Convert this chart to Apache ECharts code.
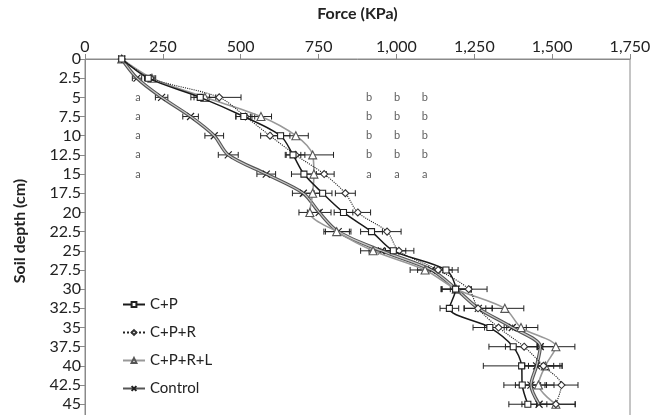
<!DOCTYPE html>
<html>
<head>
<meta charset="utf-8">
<script src="https://cdn.jsdelivr.net/npm/echarts@6/dist/echarts.min.js"></script>
<style>html,body{margin:0;padding:0;background:#fff}#c{width:654px;height:415px}</style>
</head>
<body>
<div id="c"></div>
<script>
const depths = [0, 2.5, 5, 7.5, 10, 12.5, 15, 17.5, 20, 22.5, 25, 27.5, 30, 32.5, 35, 37.5, 40, 42.5, 45];
const cp     = [118, 203, 370, 510, 628, 668, 703, 763, 830, 920, 990, 1159, 1190, 1170, 1300, 1375, 1402, 1404, 1422];
const cpr    = [118, 210, 431, 515, 594, 676, 768, 836, 876, 970, 1008, 1134, 1232, 1262, 1328, 1410, 1472, 1530, 1512];
const cprl   = [118, 215, 385, 565, 677, 731, 735, 731, 722, 808, 925, 1092, 1192, 1348, 1400, 1512, 1478, 1456, 1512];
const ctrl   = [118, 167, 246, 339, 415, 460, 582, 701, 752, 813, 952, 1113, 1192, 1263, 1372, 1462, 1450, 1432, 1458];
const cpErr   = [5, 12, 30, 26, 30, 25, 40, 30, 30, 35, 40, 39, 45, 30, 54, 78, 123, 59, 61];
const cprErr  = [5, 12, 70, 30, 30, 30, 32, 32, 41, 45, 48, 45, 59, 45, 45, 60, 60, 53, 62];
const cprlErr = [5, 12, 35, 34, 40, 67, 40, 35, 35, 41, 40, 48, 45, 61, 54, 61, 54, 50, 62];
const ctrlErr = [5, 15, 20, 25, 30, 32, 30, 35, 38, 41, 40, 45, 49, 45, 45, 50, 55, 50, 55];
const seriesNames = ['C+P', 'C+P+R', 'C+P+R+L', 'Control'];
const letterDepths = [5, 7.5, 10, 12.5, 15];
const letterColumns = [
  {x: 170, letters: ['a', 'a', 'a', 'a', 'a']},
  {x: 912, letters: ['b', 'b', 'b', 'b', 'a']},
  {x: 1002, letters: ['b', 'b', 'b', 'b', 'a']},
  {x: 1091, letters: ['b', 'b', 'b', 'b', 'a']}
];
const xTicks = {min: 0, max: 1750, interval: 250};
const yTicks = {min: 0, max: 50, interval: 2.5};

const FONT = 'Lato';
const pairs = (vals) => vals.map((v, i) => [v, depths[i]]);
const errData = (vals, errs) => vals.map((v, i) => [v, depths[i], errs[i]]);

function errSeries(vals, errs) {
  return {
    type: 'custom', silent: true, z: 1,
    dimensions: ['x', 'y', 'e'],
    encode: {x: 0, y: 1},
    data: errData(vals, errs),
    renderItem: function (params, api) {
      const v = api.value(0), d = api.value(1), e = api.value(2);
      const p1 = api.coord([v - e, d]), p2 = api.coord([v + e, d]);
      const st = {stroke: '#222', lineWidth: 1};
      return {type: 'group', children: [
        {type: 'line', shape: {x1: p1[0], y1: p1[1], x2: p2[0], y2: p2[1]}, style: st},
        {type: 'line', shape: {x1: p1[0], y1: p1[1] - 3, x2: p1[0], y2: p1[1] + 3}, style: st},
        {type: 'line', shape: {x1: p2[0], y1: p2[1] - 3, x2: p2[0], y2: p2[1] + 3}, style: st}
      ]};
    }
  };
}

const letterData = [];
letterColumns.forEach(col => col.letters.forEach((l, i) => letterData.push({value: [col.x, letterDepths[i]], name: l})));

const chart = echarts.init(document.getElementById('c'));
chart.setOption({
  animation: false,
  textStyle: {fontFamily: FONT},
  grid: {left: 85, top: 59, width: 545, height: 383.6, containLabel: false, outerBoundsMode: 'none',
    show: true, borderColor: '#8a8a8a', borderWidth: 1, backgroundColor: 'transparent'},
  legend: {
    data: seriesNames, orient: 'vertical', left: 117, top: 292, itemGap: 13, itemWidth: 22, itemHeight: 6,
    textStyle: {fontFamily: FONT, fontSize: 15, color: '#222'}
  },
  graphic: [{
    type: 'text', rotation: Math.PI / 2, x: 20, y: 231,
    style: {text: 'Soil depth (cm)', font: 'bold 16px ' + FONT, fill: '#222', align: 'center', verticalAlign: 'middle'}
  }],
  xAxis: {
    type: 'value', position: 'top', min: xTicks.min, max: xTicks.max, interval: xTicks.interval,
    name: 'Force (KPa)', nameLocation: 'middle', nameGap: 37,
    nameTextStyle: {fontFamily: FONT, fontWeight: 'bold', fontSize: 16, color: '#222'},
    axisLine: {show: true, lineStyle: {color: '#8a8a8a'}},
    axisTick: {show: true, length: 5, lineStyle: {color: '#8a8a8a'}},
    splitLine: {show: false},
    axisLabel: {fontFamily: FONT, fontSize: 16, color: '#222', margin: 4,
      formatter: v => v.toLocaleString('en-US')}
  },
  yAxis: {
    type: 'value', inverse: true, min: yTicks.min, max: yTicks.max, interval: yTicks.interval,
    axisLine: {show: true, lineStyle: {color: '#8a8a8a'}},
    axisTick: {show: true, length: 6, lineStyle: {color: '#8a8a8a'}},
    splitLine: {show: false},
    axisLabel: {fontFamily: FONT, fontSize: 16, color: '#222', margin: 4}
  },
  series: [
    errSeries(cp, cpErr), errSeries(cpr, cprErr), errSeries(cprl, cprlErr), errSeries(ctrl, ctrlErr),
    {
      name: 'Control', type: 'line', z: 2, data: pairs(ctrl), smooth: 0.3,
      symbol: 'path://M0,0L10,10M10,0L0,10', symbolSize: 7,
      lineStyle: {color: '#555', width: 3.4},
      itemStyle: {color: '#222', borderColor: '#222', borderWidth: 1.2}
    },
    {
      name: 'Control', type: 'line', z: 3, silent: true, data: pairs(ctrl), smooth: 0.3,
      symbol: 'none', lineStyle: {color: '#c8c8c8', width: 1.2}
    },
    {
      name: 'C+P+R+L', type: 'line', z: 4, data: pairs(cprl), smooth: 0.3,
      symbol: 'triangle', symbolSize: 8,
      lineStyle: {color: '#999', width: 1.6},
      itemStyle: {color: '#fff', borderColor: '#555', borderWidth: 1.1}
    },
    {
      name: 'C+P+R', type: 'line', z: 5, data: pairs(cpr), smooth: 0.3,
      symbol: 'diamond', symbolSize: 7,
      lineStyle: {color: '#222', width: 1.1, type: 'dotted'},
      itemStyle: {color: '#fff', borderColor: '#333', borderWidth: 1.1}
    },
    {
      name: 'C+P', type: 'line', z: 6, data: pairs(cp), smooth: 0.3,
      symbol: 'rect', symbolSize: 6,
      lineStyle: {color: '#1a1a1a', width: 1.5},
      itemStyle: {color: '#fff', borderColor: '#222', borderWidth: 1.1}
    },
    {
      type: 'scatter', silent: true, z: 7, symbolSize: 0, data: letterData,
      label: {show: true, position: 'inside', formatter: p => p.name, fontFamily: FONT, fontSize: 11, color: '#333'}
    }
  ]
});
</script>
</body>
</html>
